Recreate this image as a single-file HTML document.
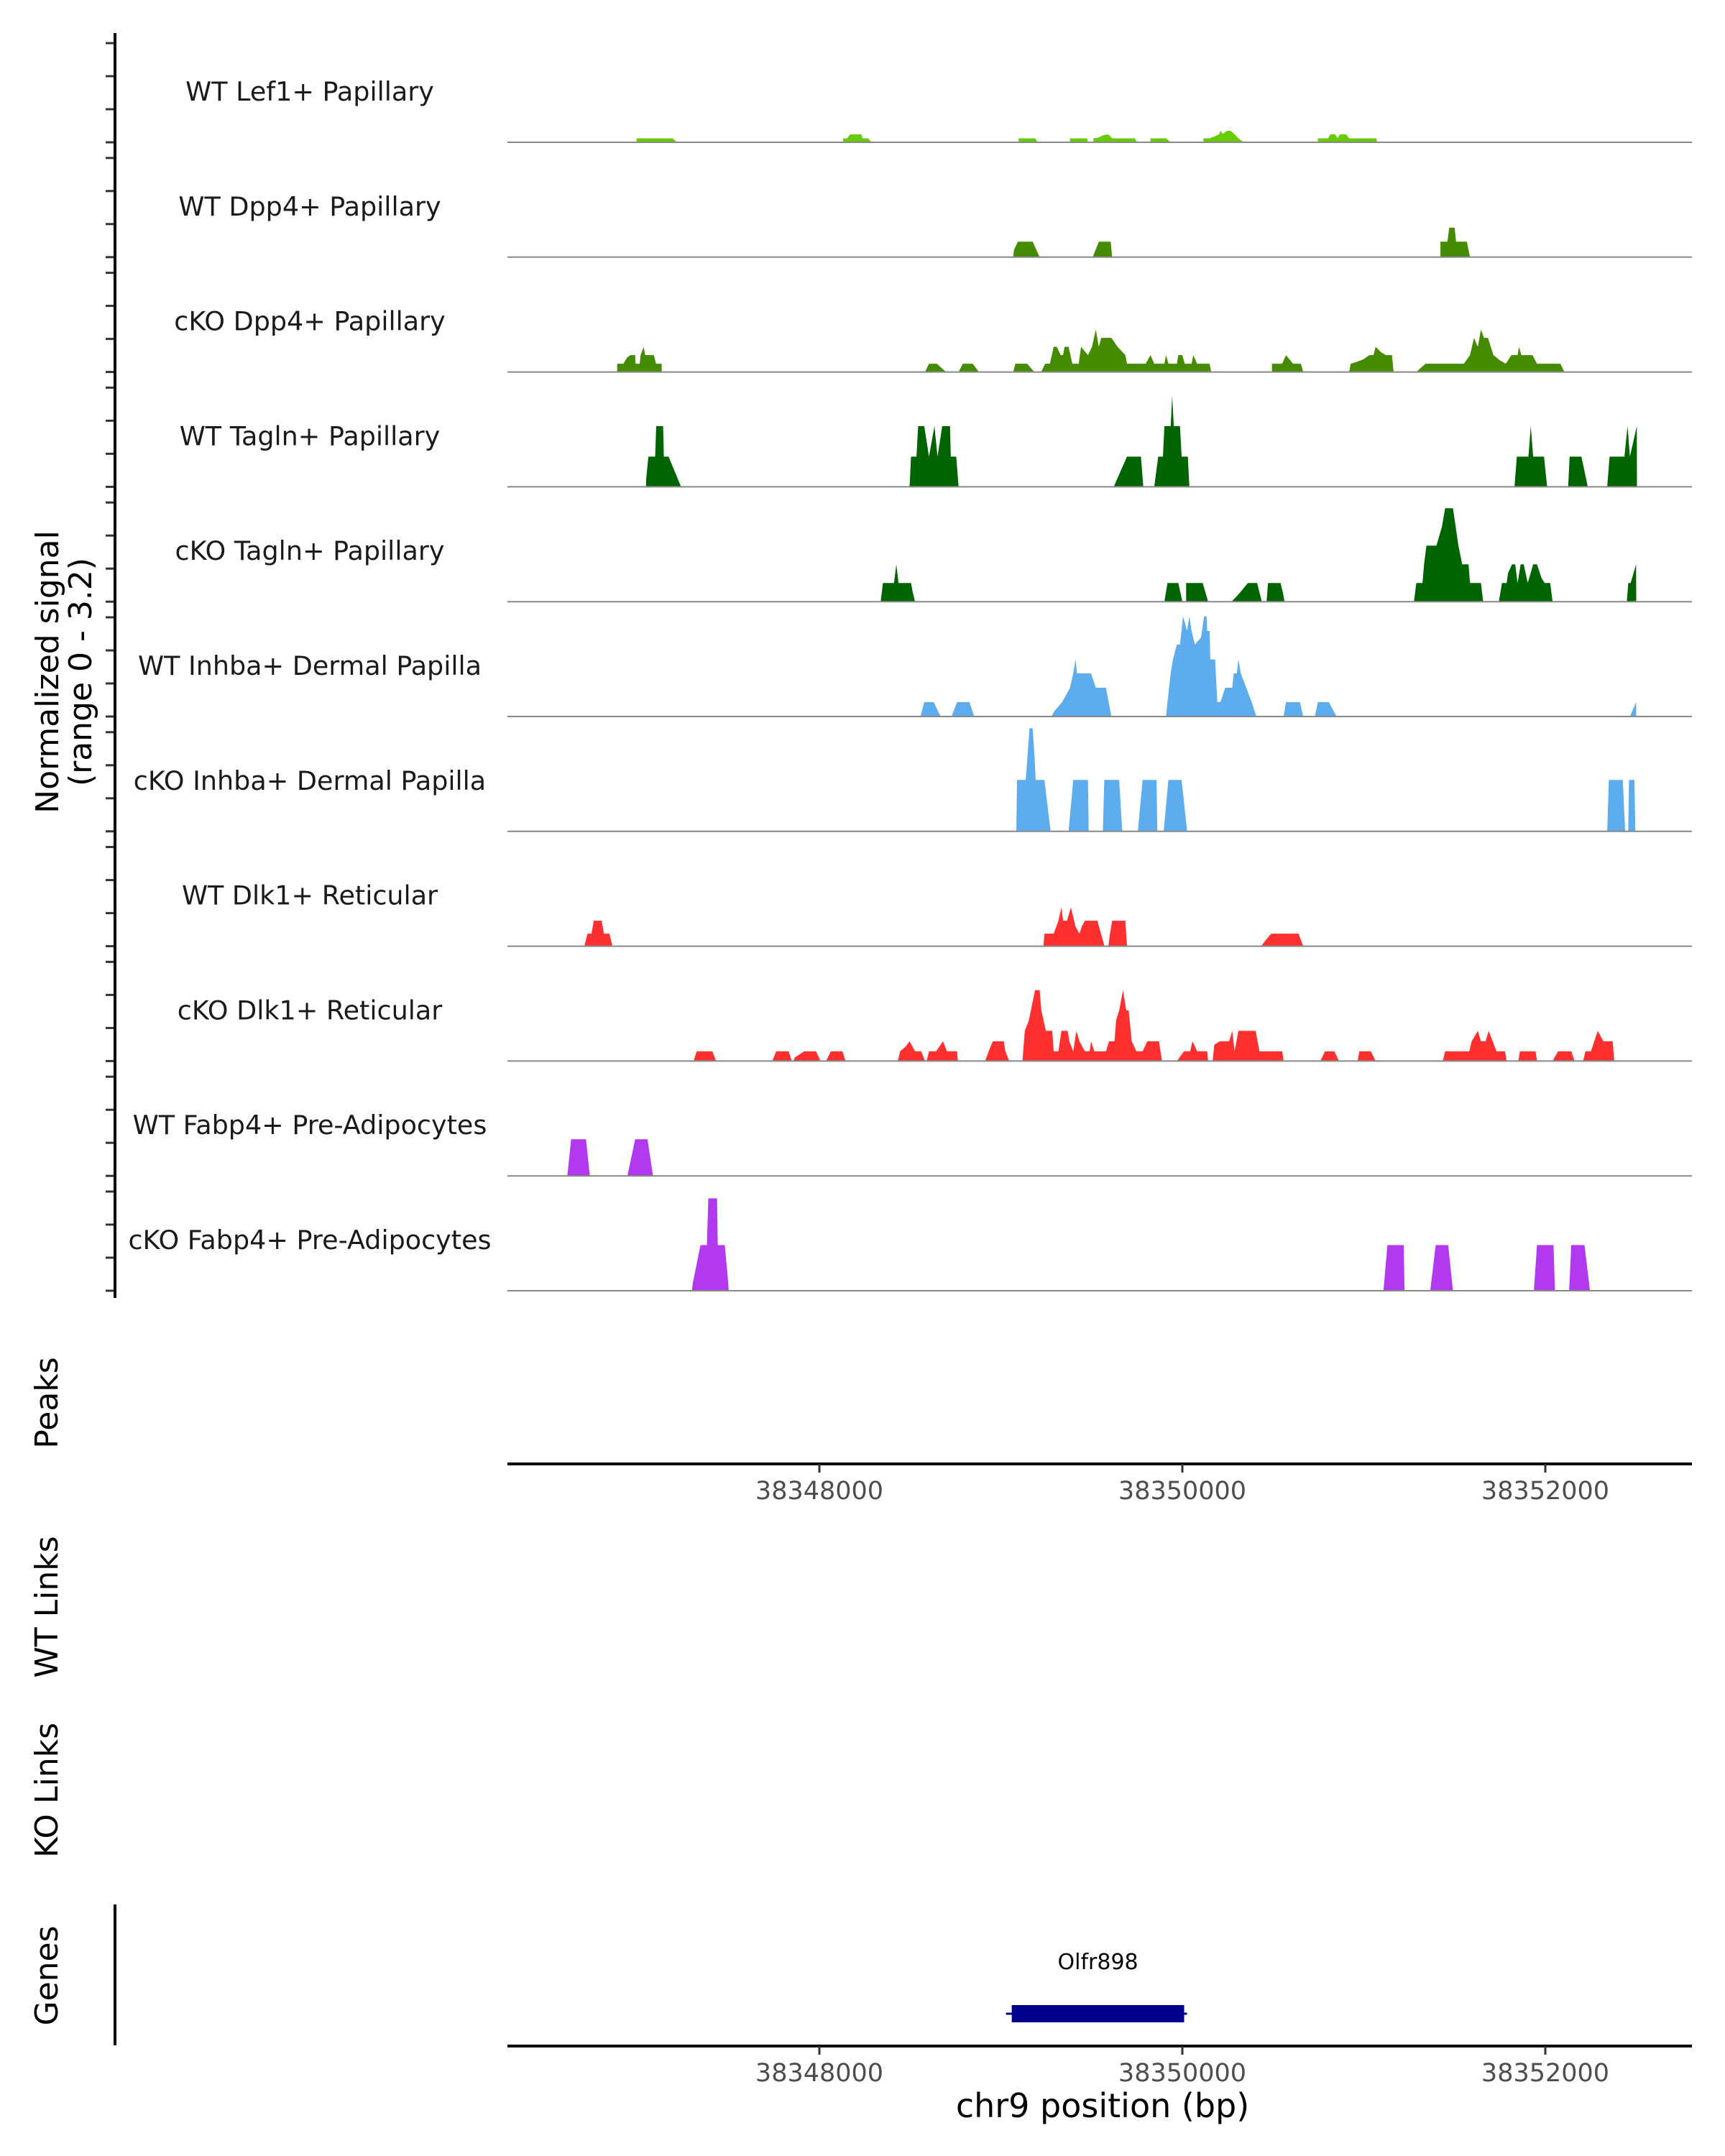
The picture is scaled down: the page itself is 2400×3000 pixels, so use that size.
<!DOCTYPE html>
<html><head><meta charset="utf-8">
<style>
html,body{margin:0;padding:0;background:#fff;}
svg{display:block;font-family:"DejaVu Sans","Liberation Sans",sans-serif;}
</style></head>
<body>
<svg id="chart" width="2400" height="3000" viewBox="0 0 2400 3000" xmlns="http://www.w3.org/2000/svg">
<g id="tracks"></g>
<g id="axes"></g>
</svg>
<script>
// ---- data ----
const regionStart = 38346250;           // bp at offset 0
const xTicks = [38348000, 38350000, 38352000];
const trackNames = ["WT Lef1+ Papillary","WT Dpp4+ Papillary","cKO Dpp4+ Papillary","WT Tagln+ Papillary","cKO Tagln+ Papillary","WT Inhba+ Dermal Papilla","cKO Inhba+ Dermal Papilla","WT Dlk1+ Reticular","cKO Dlk1+ Reticular","WT Fabp4+ Pre-Adipocytes","cKO Fabp4+ Pre-Adipocytes"];
const trackColors = ["#66CC00","#458B00","#458B00","#006400","#006400","#5CACEE","#5CACEE","#FF3030","#FF3030","#B23AEE","#B23AEE"];
// each track: [offset bp from regionStart, signal]
const wtLef1 = [[743,0],[743,.11],[941,.11],[966,0],[1881,0],[1881,.11],[1903,.11],[1920,.22],[1980,.22],[1989,.11],[2019,.11],[2036,0],[2848,0],[2848,.11],[2940,.11],[2951,0],[3131,0],[3131,.11],[3225,.11],[3230,0],[3260,0],[3260,.11],[3286,.13],[3316,.2],[3342,.22],[3363,.11],[3488,.11],[3501,0],[3574,0],[3574,.11],[3660,.11],[3686,0],[3866,0],[3866,.11],[3900,.11],[3930,.17],[3952,.22],[3960,.32],[3973,.23],[3995,.32],[4016,.32],[4038,.22],[4059,.11],[4089,0],[4497,0],[4497,.11],[4553,.11],[4566,.22],[4592,.22],[4605,.11],[4618,.22],[4652,.22],[4669,.11],[4820,.11],[4822,0]];
const wtDpp4 = [[2818,0],[2822,.2],[2844,.43],[2925,.43],[2964,0],[3256,0],[3290,.43],[3355,.43],[3363,0],[5172,0],[5172,.43],[5211,.43],[5220,.82],[5250,.82],[5258,.43],[5318,.43],[5335,0]];
const koDpp4 = [[636,0],[636,.23],[670,.23],[690,.4],[709,.47],[735,.47],[737,.23],[760,.23],[765,.47],[782,.7],[790,.47],[838,.47],[850,.23],[881,.23],[881,0],[2332,0],[2354,.23],[2397,.23],[2448,0],[2517,0],[2540,.23],[2595,.23],[2629,0],[2818,0],[2830,.23],[2895,.23],[2934,0],[2972,0],[2994,.23],[3020,.23],[3041,.7],[3058,.7],[3080,.47],[3093,.47],[3101,.7],[3123,.7],[3144,.23],[3179,.23],[3192,.7],[3230,.47],[3252,.7],[3273,1.18],[3290,.7],[3303,.95],[3359,.95],[3393,.7],[3436,.47],[3445,.23],[3548,.23],[3574,.47],[3595,.23],[3651,.23],[3660,.47],[3673,.23],[3720,.23],[3728,.47],[3750,.47],[3763,.23],[3801,.23],[3810,.47],[3831,.23],[3900,.23],[3909,0],[4244,0],[4244,.23],[4300,.23],[4321,.47],[4360,.23],[4403,.23],[4416,0],[4669,0],[4678,.23],[4704,.27],[4747,.35],[4781,.47],[4803,.47],[4815,.7],[4845,.55],[4871,.47],[4905,.47],[4914,0],[5039,0],[5090,.23],[5301,.23],[5335,.47],[5357,.95],[5378,.7],[5395,1.18],[5412,.95],[5434,.95],[5464,.47],[5498,.33],[5532,.23],[5563,.47],[5597,.47],[5605,.7],[5618,.47],[5679,.47],[5704,.23],[5833,.23],[5855,0]];
const wtTagln = [[795,0],[795,.19],[808,.84],[845,.84],[851,1.69],[889,1.69],[893,.84],[919,.84],[988,0],[2247,0],[2255,.84],[2285,.84],[2294,1.69],[2328,1.69],[2354,.84],[2384,1.69],[2401,.84],[2427,1.69],[2470,1.69],[2474,.84],[2504,.84],[2517,0],[3372,0],[3398,.3],[3445,.84],[3522,.84],[3535,0],[3595,0],[3617,.84],[3643,.84],[3651,1.69],[3686,1.69],[3694,2.53],[3703,1.69],[3737,1.69],[3746,.84],[3780,.84],[3789,0],[5580,0],[5593,.84],[5657,.84],[5670,1.69],[5683,.84],[5743,.84],[5760,0],[5876,0],[5884,.84],[5949,.84],[5984,0],[6091,0],[6104,.84],[6186,.84],[6203,1.69],[6216,.84],[6254,1.69],[6255,0]];
const koTagln = [[2088,0],[2100,.52],[2161,.52],[2174,1.04],[2186,.52],[2255,.52],[2264,.27],[2277,0],[3651,0],[3668,.52],[3728,.52],[3746,.1],[3750,0],[3771,0],[3771,.52],[3862,.52],[3892,0],[4021,0],[4059,.2],[4111,.52],[4162,.52],[4188,0],[4214,0],[4222,.52],[4291,.52],[4304,.25],[4313,0],[5026,0],[5039,.52],[5073,.52],[5082,1.04],[5095,1.56],[5150,1.56],[5180,2.08],[5198,2.6],[5241,2.6],[5271,1.56],[5292,1.04],[5327,1.04],[5335,.52],[5395,.52],[5408,0],[5494,0],[5511,.52],[5537,.52],[5545,.8],[5567,1.04],[5584,1.04],[5597,.52],[5614,1.04],[5631,1.04],[5653,.52],[5683,1.04],[5704,1.04],[5730,.65],[5747,.52],[5777,.52],[5790,0],[6199,0],[6207,.52],[6220,.52],[6250,1.04],[6251,0]];
const wtInhba = [[2307,0],[2328,.4],[2380,.4],[2418,0],[2478,0],[2509,.4],[2577,.4],[2603,0],[3028,0],[3045,.15],[3088,.4],[3131,.8],[3149,1.2],[3161,1.59],[3170,1.2],[3247,1.2],[3273,.8],[3329,.8],[3359,0],[3660,0],[3668,.4],[3686,1.2],[3698,1.59],[3720,2.0],[3737,2.0],[3754,2.79],[3776,2.38],[3789,2.79],[3801,2.38],[3819,2.0],[3853,2.2],[3870,2.79],[3883,2.79],[3887,2.38],[3900,2.38],[3904,1.59],[3930,1.59],[3943,.4],[3960,.4],[3986,.8],[4025,.8],[4033,1.2],[4050,1.2],[4059,1.59],[4072,1.2],[4102,.8],[4132,.4],[4158,0],[4308,0],[4321,.4],[4398,.4],[4416,0],[4480,0],[4497,.4],[4557,.4],[4600,0],[6216,0],[6250,.4],[6251,0]];
const koInhba = [[2835,0],[2839,1.43],[2887,1.43],[2908,2.87],[2925,2.87],[2934,2.2],[2942,1.43],[2990,1.43],[3024,0],[3123,0],[3149,1.43],[3230,1.43],[3234,0],[3312,0],[3320,1.43],[3402,1.43],[3419,0],[3505,0],[3531,1.43],[3608,1.43],[3612,0],[3647,0],[3673,1.43],[3746,1.43],[3776,0],[6091,0],[6100,1.43],[6177,1.43],[6190,0],[6207,0],[6211,1.43],[6241,1.43],[6246,0]];
const wtDlk1 = [[455,0],[472,.35],[494,.35],[507,.71],[550,.71],[563,.35],[593,.35],[610,0],[2985,0],[2990,.35],[3041,.35],[3067,.71],[3084,1.08],[3093,.71],[3114,.71],[3136,1.08],[3161,.55],[3183,.35],[3196,.55],[3213,.71],[3282,.71],[3321,0],[3342,0],[3350,.3],[3363,.71],[3436,.71],[3445,0],[4184,0],[4214,.2],[4240,.35],[4390,.35],[4416,0]];
const koDlk1 = [[1057,0],[1074,.27],[1160,.27],[1181,0],[1491,0],[1512,.27],[1581,.27],[1598,0],[1607,0],[1615,.1],[1667,.27],[1731,.27],[1757,0],[1787,0],[1813,.27],[1877,.27],[1894,0],[2182,0],[2195,.27],[2225,.4],[2247,.55],[2277,.27],[2311,.27],[2332,0],[2341,0],[2354,.27],[2393,.27],[2431,.55],[2453,.27],[2509,.27],[2513,0],[2663,0],[2685,.3],[2706,.55],[2766,.55],[2775,.27],[2796,0],[2869,0],[2882,.84],[2904,1.13],[2938,1.97],[2964,1.97],[2973,1.41],[2998,.84],[3033,.84],[3041,.27],[3067,.27],[3084,.84],[3118,.84],[3127,.55],[3149,.27],[3166,.84],[3183,.55],[3213,.27],[3239,.27],[3247,.55],[3265,.27],[3329,.27],[3346,.55],[3376,.55],[3385,1.13],[3402,1.41],[3423,1.97],[3441,1.41],[3454,1.41],[3471,.55],[3497,.27],[3531,.27],[3557,.55],[3621,.55],[3638,0],[3720,0],[3759,.27],[3793,.27],[3806,.55],[3832,.27],[3887,.27],[3892,0],[3917,0],[3926,.45],[3956,.55],[4008,.55],[4025,.84],[4038,.27],[4059,.84],[4154,.84],[4175,.27],[4300,.27],[4308,0],[4510,0],[4536,.27],[4588,.27],[4613,0],[4716,0],[4725,.27],[4789,.27],[4815,0],[5185,0],[5198,.27],[5331,.27],[5344,.55],[5378,.84],[5395,.55],[5421,.55],[5438,.84],[5481,.27],[5528,.27],[5537,0],[5601,0],[5610,.27],[5696,.27],[5704,0],[5790,0],[5820,.27],[5893,.27],[5911,0],[5958,0],[5971,.27],[6001,.27],[6039,.84],[6070,.55],[6121,.55],[6130,0]];
const wtFabp4 = [[361,0],[382,1.02],[464,1.02],[485,0],[692,0],[735,1.02],[803,1.02],[833,0]];
const koFabp4 = [[1048,0],[1052,.2],[1095,1.27],[1130,1.27],[1138,2.57],[1186,2.57],[1190,1.27],[1229,1.27],[1246,.32],[1250,0],[4858,0],[4880,1.27],[4970,1.27],[4974,0],[5116,0],[5146,1.27],[5215,1.27],[5241,0],[5687,0],[5704,1.27],[5795,1.27],[5803,0],[5881,0],[5893,1.27],[5966,1.27],[5996,0]];
const trackData = [wtLef1, wtDpp4, koDpp4, wtTagln, koTagln, wtInhba, koInhba, wtDlk1, koDlk1, wtFabp4, koFabp4];
const geneName = "Olfr898";
const geneStart = 38349060, geneEnd = 38350010;

// ---- scales ----
const PX0 = 706, PX1 = 2354;
const bpPerPx = 2000 / 505;
function xScale(bp){ return 1645 + (bp - 38350000) / bpPerPx; }
const firstBase = 198, trackStep = 159.8, unitPx = 50;
function baseY(i){ return firstBase + i * trackStep; }
function yScale(i, v){ return baseY(i) - v * unitPx; }

const NS = "http://www.w3.org/2000/svg";
function mk(tag, attrs, parent){ const e = document.createElementNS(NS, tag); for (const k in attrs) e.setAttribute(k, attrs[k]); parent.appendChild(e); return e; }
const tracksG = document.getElementById('tracks');
const axesG = document.getElementById('axes');

trackData.forEach((pts, i) => {
  const g = mk('g', {}, tracksG);
  
  
  let d = 'M' + PX0 + ',' + baseY(i);
  pts.forEach(p => { d += ' L' + xScale(regionStart + p[0]).toFixed(1) + ',' + yScale(i, p[1]).toFixed(1); });
  d += ' L' + PX0 + ',' + baseY(i) + 'Z';
  const area = mk('path', {d: d, fill: trackColors[i], stroke: 'none'}, g);
  
  
  const bl = mk('line', {x1: PX0, x2: PX1, y1: baseY(i), y2: baseY(i), stroke: '#888', 'stroke-width': 2}, g);
  
  
  const lab = mk('text', {x: 431, y: baseY(i) - 58, 'text-anchor': 'middle', 'font-size': 36.5, fill: '#1a1a1a'}, g);
  lab.textContent = trackNames[i];
  
  
  for (let k = 0; k < 4; k++) {
    const ty = baseY(i) - k * 46;
    const t = mk('line', {x1: 147, x2: 159, y1: ty, y2: ty, stroke: '#333', 'stroke-width': 3}, axesG);
    
    
  }
});

// left axis
const yAxis = mk('line', {x1: 160, x2: 160, y1: 46, y2: 1806, stroke: '#000', 'stroke-width': 4}, axesG);



function rotLabel(text, x, y, name, size){
  const t = mk('text', {x: x, y: y, transform: 'rotate(-90 ' + x + ' ' + y + ')', 'text-anchor': 'middle', 'font-size': size, fill: '#000'}, axesG);
  t.textContent = text;
  
  
}
rotLabel('Normalized signal', 81, 935, 'y-axis-title', 44);
rotLabel('(range 0 - 3.2)', 127, 935, 'y-axis-subtitle', 44);
rotLabel('Peaks', 80, 1952, 'peaks-track-title', 44);
rotLabel('WT Links', 80, 2236, 'wt-links-title', 44);
rotLabel('KO Links', 80, 2491, 'ko-links-title', 44);
rotLabel('Genes', 80, 2749, 'genes-track-title', 44);

function xAxis(y, name){
  const l = mk('line', {x1: PX0, x2: PX1, y1: y, y2: y, stroke: '#000', 'stroke-width': 4}, axesG);
  
  
  xTicks.forEach(v => {
    const tx = xScale(v);
    const tk = mk('line', {x1: tx, x2: tx, y1: y, y2: y + 12, stroke: '#333', 'stroke-width': 3}, axesG);
    
    
    const tl = mk('text', {x: tx, y: y + 49, 'text-anchor': 'middle', 'font-size': 35, fill: '#4d4d4d'}, axesG);
    tl.textContent = String(v);
    
    
  });
}
xAxis(2037, 'peaks-x-axis');
xAxis(2847, 'genes-x-axis');

const xt = mk('text', {x: 1534, y: 2946, 'text-anchor': 'middle', 'font-size': 46, fill: '#000'}, axesG);
xt.textContent = 'chr9 position (bp)';



const gAxis = mk('line', {x1: 160, x2: 160, y1: 2650, y2: 2846, stroke: '#000', 'stroke-width': 4}, axesG);



// gene
const gx0 = xScale(geneStart), gx1 = xScale(geneEnd);
const gb = mk('rect', {x: gx0, y: 2790, width: gx1 - gx0, height: 24, fill: '#00008B'}, axesG);


const gl = mk('line', {x1: gx0 - 8, x2: gx1 + 4, y1: 2802, y2: 2802, stroke: '#00008B', 'stroke-width': 3}, axesG);


const gn = mk('text', {x: (gx0 + gx1) / 2, y: 2740, 'text-anchor': 'middle', 'font-size': 30, fill: '#000'}, axesG);
gn.textContent = geneName;


</script>
</body></html>
